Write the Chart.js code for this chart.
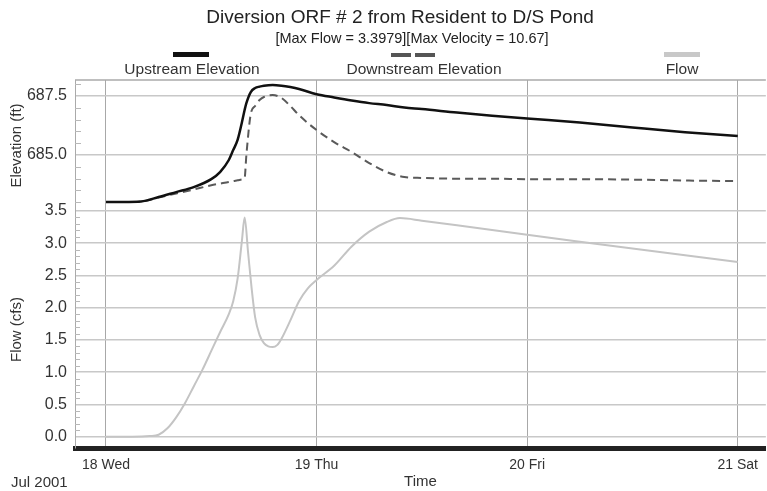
<!DOCTYPE html>
<html>
<head>
<meta charset="utf-8">
<script src="https://cdn.jsdelivr.net/npm/chart.js@4"></script>
<style>
html,body{margin:0;padding:0;background:#fff;}
#wrap{width:767px;height:491px;position:relative;}
</style>
</head>
<body>
<div id="wrap"><canvas id="c" width="767" height="491"></canvas></div>
<script>
// hours from 18 Jul 2001 00:00
var hours = [0, 2, 4, 6, 8, 10, 12, 13, 14, 14.5, 15, 15.5, 15.8, 16, 16.5, 17, 17.5, 18, 19, 20, 21, 22, 24, 26, 28, 30, 32, 34, 36, 40, 44, 48, 54, 60, 66, 72];
var upstream = [683.01, 683.01, 683.03, 683.22, 683.43, 683.64, 683.98, 684.28, 684.79, 685.21, 685.64, 686.40, 686.91, 687.20, 687.67, 687.84, 687.90, 687.94, 687.97, 687.94, 687.88, 687.80, 687.58, 687.44, 687.31, 687.20, 687.12, 687.01, 686.95, 686.80, 686.67, 686.55, 686.38, 686.17, 685.97, 685.81];
var downstream = [683.01, 683.01, 683.03, 683.20, 683.37, 683.54, 683.72, 683.79, 683.86, 683.90, 683.93, 683.97, 684.03, 685.00, 686.74, 687.08, 687.33, 687.46, 687.54, 687.42, 687.08, 686.69, 686.06, 685.55, 685.13, 684.66, 684.28, 684.07, 684.03, 684.00, 684.00, 683.98, 683.98, 683.96, 683.92, 683.90];
var flowHours = [0, 3, 5, 6, 7, 8, 9, 10, 11, 12, 13, 14, 14.5, 15, 15.5, 15.8, 16.2, 16.6, 17, 17.5, 18, 18.5, 19, 19.5, 20, 21, 22, 23, 24, 26, 28, 30, 32, 33.5, 36, 40, 48, 56, 64, 72];
var flow = [0.00, 0.00, 0.01, 0.03, 0.13, 0.30, 0.52, 0.78, 1.04, 1.33, 1.62, 1.90, 2.10, 2.45, 3.05, 3.40, 2.85, 2.30, 1.85, 1.58, 1.45, 1.40, 1.39, 1.42, 1.52, 1.80, 2.10, 2.30, 2.43, 2.65, 2.95, 3.18, 3.33, 3.39, 3.35, 3.28, 3.13, 2.99, 2.85, 2.71];

var dayTicks = [0, 24, 48, 72];
var dayLabels = ['18 Wed', '19 Thu', '20 Fri', '21 Sat'];
var elevTicks = [685.0, 687.5];
var flowTicks = [0, 0.5, 1.0, 1.5, 2.0, 2.5, 3.0, 3.5];
var elevMinor = [683.0, 683.5, 684.0, 684.5, 685.5, 686.0, 686.5, 687.0, 688.0];
var flowMinorStep = 0.1;

function pts(xs, ys){
    return xs.map(function(x, i){ return {x: x, y: ys[i]}; });
}
var FONT = "'Liberation Sans', Arial, sans-serif";
var TXT = '#333';

var decor = {
    id: 'decor',
    afterDraw: function(chart){
        var c = chart.ctx, a = chart.chartArea;
        var sE = chart.scales.yElev, sF = chart.scales.yFlow;
        c.save();
        c.fillStyle = '#222';
        c.textAlign = 'center';
        c.textBaseline = 'middle';
        c.font = '19px ' + FONT;
        c.fillText('Diversion ORF # 2 from Resident to D/S Pond', 400, 18);
        c.font = '14.5px ' + FONT;
        c.fillText('[Max Flow = 3.3979][Max Velocity = 10.67]', 412, 39);
        // legend
        c.font = '15.5px ' + FONT;
        c.fillStyle = TXT;
        c.fillText('Upstream Elevation', 192, 70);
        c.fillText('Downstream Elevation', 424, 70);
        c.fillText('Flow', 682, 70);
        c.fillStyle = '#111';
        c.fillRect(173, 52, 36, 5);
        c.fillStyle = '#555';
        c.fillRect(391, 53, 20, 4);
        c.fillRect(415, 53, 20, 4);
        c.fillStyle = '#c8c8c8';
        c.fillRect(664, 52, 36, 5);
        // top border
        c.strokeStyle = '#aaa';
        c.lineWidth = 1.5;
        c.beginPath();
        c.moveTo(a.left, a.top);
        c.lineTo(a.right, a.top);
        c.stroke();
        // minor ticks inside the left axis
        c.strokeStyle = '#b8b8b8';
        c.lineWidth = 1;
        c.beginPath();
        elevMinor.forEach(function(v){
            var y = Math.round(sE.getPixelForValue(v)) + 0.5;
            if (y > sE.top && y < sE.bottom) { c.moveTo(a.left, y); c.lineTo(a.left + 6, y); }
        });
        for (var i = 0; i <= 35; i++) {
            if (i % 5 === 0) continue;
            var y = Math.round(sF.getPixelForValue(i * flowMinorStep)) + 0.5;
            c.moveTo(a.left, y); c.lineTo(a.left + 5, y);
        }
        c.stroke();
        c.fillStyle = TXT;
        c.textAlign = 'left';
        c.font = '15px ' + FONT;
        c.fillText('Jul 2001', 11, 483);
        c.restore();
    }
};

new Chart(document.getElementById('c'), {
    type: 'line',
    data: {
        datasets: [
            {
                label: 'Upstream Elevation',
                data: pts(hours, upstream),
                yAxisID: 'yElev',
                borderColor: '#111',
                borderWidth: 2.5,
                pointRadius: 0,
                cubicInterpolationMode: 'monotone'
            },
            {
                label: 'Downstream Elevation',
                data: pts(hours, downstream),
                yAxisID: 'yElev',
                borderColor: '#5a5a5a',
                borderDash: [8, 5],
                borderWidth: 2,
                pointRadius: 0,
                cubicInterpolationMode: 'monotone'
            },
            {
                label: 'Flow',
                data: pts(flowHours, flow),
                yAxisID: 'yFlow',
                borderColor: '#c4c4c4',
                borderWidth: 2,
                pointRadius: 0,
                cubicInterpolationMode: 'monotone'
            }
        ]
    },
    options: {
        responsive: false,
        animation: false,
        layout: { padding: { top: 80, right: 0, left: 0, bottom: 0 } },
        plugins: { legend: { display: false }, tooltip: { enabled: false } },
        scales: {
            x: {
                type: 'linear',
                min: -3.53,
                max: 75.2,
                afterBuildTicks: function(s){ s.ticks = dayTicks.map(function(v){ return {value: v}; }); },
                afterFit: function(s){ s.height = 43; },
                ticks: {
                    autoSkip: false,
                    maxRotation: 0,
                    padding: 9,
                    color: TXT,
                    font: { family: FONT, size: 14 },
                    callback: function(v){ return dayLabels[dayTicks.indexOf(v)]; }
                },
                grid: { color: '#a8a8a8', lineWidth: 1, drawTicks: false },
                border: { display: true, color: '#222', width: 5 },
                title: { display: true, text: 'Time', color: TXT, font: { family: FONT, size: 15 }, padding: { top: 0, bottom: 0 } }
            },
            yFlow: {
                type: 'linear',
                position: 'left',
                stack: 'panels',
                stackWeight: 237,
                min: -0.175,
                max: 3.5,
                afterBuildTicks: function(s){ s.ticks = flowTicks.map(function(v){ return {value: v}; }); },
                afterFit: function(s){ s.width = 75; },
                ticks: {
                    autoSkip: false,
                    padding: 8,
                    color: TXT,
                    font: { family: FONT, size: 16 },
                    callback: function(v){ return v.toFixed(1); }
                },
                grid: { color: '#c8c8c8', lineWidth: 1.5, drawTicks: false },
                border: { color: '#aaa', width: 1 },
                title: { display: true, text: 'Flow (cfs)', color: TXT, font: { family: FONT, size: 15 }, padding: { top: 8, bottom: 0 } }
            },
            yElev: {
                type: 'linear',
                position: 'left',
                stack: 'panels',
                stackWeight: 131,
                min: 682.63,
                max: 688.18,
                afterBuildTicks: function(s){ s.ticks = elevTicks.map(function(v){ return {value: v}; }); },
                afterFit: function(s){ s.width = 75; },
                ticks: {
                    autoSkip: false,
                    padding: 8,
                    color: TXT,
                    font: { family: FONT, size: 16 },
                    callback: function(v){ return v.toFixed(1); }
                },
                grid: { color: '#c8c8c8', lineWidth: 1.5, drawTicks: false },
                border: { color: '#aaa', width: 1 },
                title: { display: true, text: 'Elevation (ft)', color: TXT, font: { family: FONT, size: 15 }, padding: { top: 8, bottom: 0 } }
            }
        }
    },
    plugins: [decor]
});
</script>
</body>
</html>
